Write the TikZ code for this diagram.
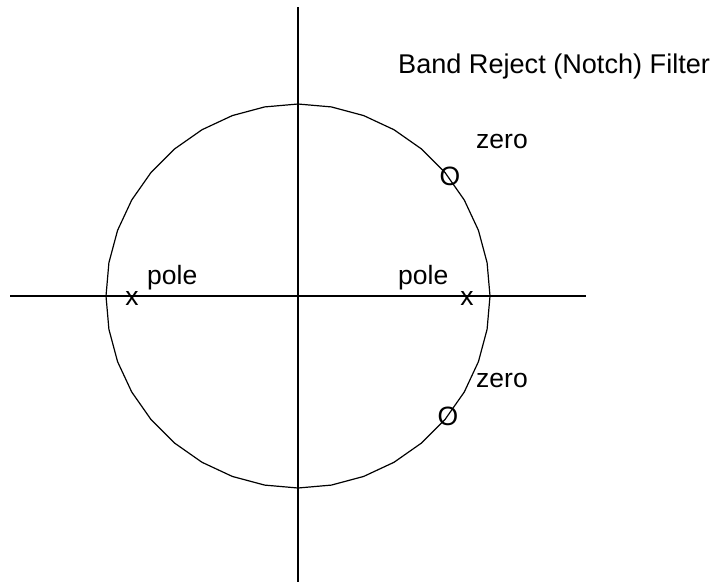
\documentclass[tikz,border=0pt]{standalone}
\usepackage{fontspec}
\setmainfont{Liberation Sans}
\usetikzlibrary{calc}
\begin{document}
\begin{tikzpicture}[x=1pt,y=-1pt,
  lbl/.style={inner sep=0pt,anchor=base west,font=\fontsize{26.5}{30}\selectfont},
  mrk/.style={inner sep=0pt,anchor=base,font=\fontsize{26.5}{30}\selectfont},
  ln/.style={line width=1.2pt,black}]
\useasboundingbox (0,0) rectangle (719,582);
\coordinate (c) at (298,296);
\coordinate (vtop) at (298,7);
\coordinate (vbot) at (298,582);
\coordinate (hl) at (10,296);
\coordinate (hr) at (586,296);
\draw[ln] (vtop) -- (vbot);
\draw[ln] (hl) -- (hr);
\draw[ln,line join=round] ($(c)+(0:192)$) \foreach \a in {10,20,...,350} { -- ($(c)+(\a:192)$) } -- cycle;
\node[lbl,font=\fontsize{27.1}{30}\selectfont] (title) at (398,73) {Band Reject (Notch) Filter};
\node[lbl] (z1) at (476,148) {zero};
\node[lbl] (z2) at (476,387) {zero};
\node[lbl] (p1) at (147,284) {pole};
\node[lbl] (p2) at (398,284) {pole};
\node[mrk] (x1) at (132,305) {x};
\node[mrk] (x2) at (467,305) {x};
\node[mrk] (o1) at (450,185) {O};
\node[mrk] (o2) at (448,425) {O};
\end{tikzpicture}
\end{document}
